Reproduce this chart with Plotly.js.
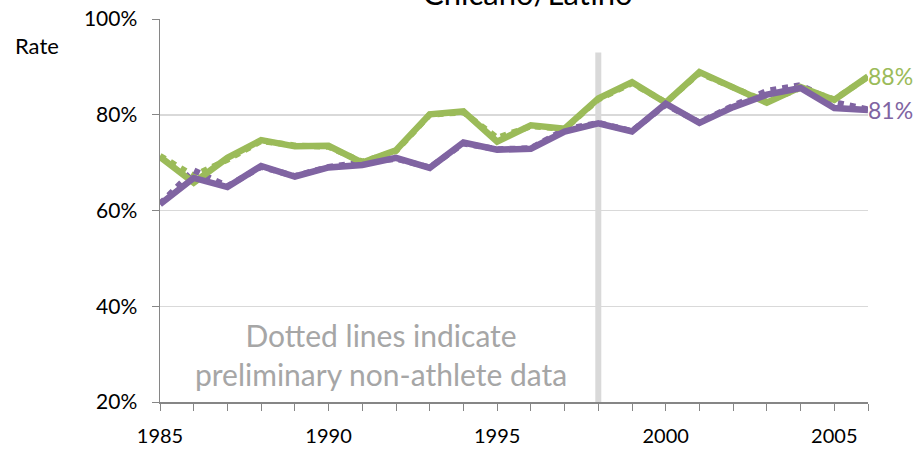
<!DOCTYPE html>
<html>
<head>
<meta charset="utf-8">
<script src="https://cdn.plot.ly/plotly-3.0.1.min.js"></script>
<style>html,body{margin:0;padding:0;background:#fff;}#chart{width:916px;height:450px;}</style>
</head>
<body>
<div id="chart"></div>
<script>
const years = [1985,1986,1987,1988,1989,1990,1991,1992,1993,1994,1995,1996,1997,1998,1999,2000,2001,2002,2003,2004,2005,2006];
const greenRate  = [71.2,65.8,71.0,74.7,73.4,73.5,70.0,72.6,80.1,80.7,74.4,77.8,77.1,83.4,86.8,82.5,88.9,85.8,82.5,85.8,83.1,88.0];
const purpleRate = [61.3,66.8,64.9,69.3,67.1,69.0,69.5,71.0,68.9,74.2,72.7,72.9,76.5,78.2,76.5,82.3,78.3,81.6,84.2,85.6,81.4,81.0];
const greenDotted  = [71.4,67.3,70.6,74.5,73.6,73.3,70.2,72.4,80.0,80.5,75.2,77.6,77.0,83.2,86.6,82.6,88.7,85.6,82.7,85.6,83.2,87.9];
const purpleDotted = [61.4,68.4,65.1,69.1,67.2,69.1,70.0,70.8,69.0,74.0,72.8,73.0,76.9,78.3,76.6,82.1,78.4,81.9,85.0,86.2,82.6,81.1];
const cutoverYear = 1998;
const cutoverTop = 93;
const yTicks = [20,40,60,80,100];
const labelYears = [1985,1990,1995,2000,2005];
const chartTitle = "Chicano/Latino";
const noteText = "Dotted lines indicate<br>preliminary non-athlete data";

const GREEN = "#9bbb59", PURPLE = "#8064a2";
const FONT = "Lato, 'Open Sans', sans-serif";

const traces = [
  {x: years, y: greenDotted, mode: "lines", line: {color: GREEN, width: 6, dash: "dot"}, hoverinfo: "skip"},
  {x: years, y: purpleDotted, mode: "lines", line: {color: PURPLE, width: 6, dash: "dot"}, hoverinfo: "skip"},
  {x: years, y: greenRate, mode: "lines", line: {color: GREEN, width: 6.5}},
  {x: years, y: purpleRate, mode: "lines", line: {color: PURPLE, width: 6.5}}
];

const last = years.length - 1;
const layout = {
  width: 916, height: 450,
  margin: {l: 160, r: 48, t: 19, b: 48},
  paper_bgcolor: "#fff", plot_bgcolor: "#fff",
  showlegend: false,
  font: {family: FONT, color: "#000", size: 21},
  xaxis: {
    range: [years[0], years[last]],
    tickvals: years,
    ticktext: years.map(y => labelYears.includes(y) ? String(y) : ""),
    ticks: "outside", ticklen: 7, tickcolor: "#868686", tickwidth: 1,
    ticklabelstandoff: 8,
    showgrid: false, zeroline: false,
    showline: true, linecolor: "#868686", linewidth: 1.5,
    tickfont: {family: FONT, size: 20, color: "#000"},
    fixedrange: true
  },
  yaxis: {
    range: [20, 100],
    tickvals: yTicks,
    ticktext: yTicks.map(v => v + "%"),
    ticks: "outside", ticklen: 7, tickcolor: "#868686", tickwidth: 1,
    ticklabelstandoff: 10,
    showgrid: true, gridcolor: "#d9d9d9", gridwidth: 1.5,
    zeroline: false,
    showline: true, linecolor: "#868686", linewidth: 1.5,
    tickfont: {family: FONT, size: 21, color: "#000"},
    fixedrange: true
  },
  shapes: [
    {type: "line", xref: "x", yref: "y", x0: cutoverYear, x1: cutoverYear, y0: 20, y1: cutoverTop,
     line: {color: "#d9d9d9", width: 6}, layer: "below"}
  ],
  annotations: [
    {xref: "paper", yref: "paper", x: 0.52, y: 1.012, xanchor: "center", yanchor: "bottom",
     text: chartTitle, showarrow: false, font: {family: FONT, size: 31, color: "#000"}},
    {xref: "paper", yref: "paper", x: -0.2076, y: 0.93, xanchor: "left", yanchor: "middle",
     text: "Rate", showarrow: false, font: {family: FONT, size: 22, color: "#000"}},
    {xref: "x", yref: "y", x: 1991.55, y: 30.0, xanchor: "center", yanchor: "middle",
     text: noteText, showarrow: false, font: {family: FONT, size: 30, color: "#a6a6a6"}},
    {xref: "x", yref: "y", x: years[last], y: greenRate[last], xanchor: "left", yanchor: "middle",
     text: Math.round(greenRate[last]) + "%", showarrow: false, xshift: -2,
     font: {family: FONT, size: 23, color: GREEN}},
    {xref: "x", yref: "y", x: years[last], y: purpleRate[last], xanchor: "left", yanchor: "middle",
     text: Math.round(purpleRate[last]) + "%", showarrow: false, xshift: -2,
     font: {family: FONT, size: 23, color: PURPLE}}
  ]
};

Plotly.newPlot("chart", traces, layout, {displayModeBar: false, staticPlot: true});
</script>
</body>
</html>
